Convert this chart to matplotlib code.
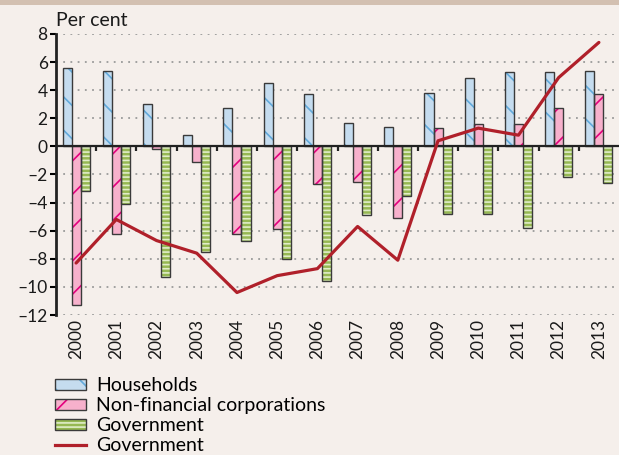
import matplotlib
matplotlib.use("Agg")
import matplotlib.pyplot as plt
from matplotlib.patches import Patch, Rectangle
from matplotlib.lines import Line2D
from matplotlib.legend_handler import HandlerTuple
import numpy as np

years = ["2000", "2001", "2002", "2003", "2004", "2005", "2006",
         "2007", "2008", "2009", "2010", "2011", "2012", "2013"]
households = [5.6, 5.4, 3.0, 0.8, 2.7, 4.5, 3.7, 1.7, 1.4, 3.8, 4.9, 5.3, 5.3, 5.4]
nonfin_corp = [-11.3, -6.2, -0.15, -1.1, -6.2, -5.9, -2.7, -2.5, -5.1, 1.3, 1.6, 1.6, 2.7, 3.7]
government_bars = [-3.2, -4.1, -9.3, -7.5, -6.7, -8.0, -9.6, -4.9, -3.5, -4.8, -4.8, -5.8, -2.2, -2.6]
government_line = [-8.3, -5.2, -6.7, -7.6, -10.4, -9.2, -8.7, -5.7, -8.1, 0.4, 1.3, 0.8, 4.9, 7.4]
yticks = [-12, -10, -8, -6, -4, -2, 0, 2, 4, 6, 8]
series_labels = ["Households", "Non-financial corporations", "Government", "Government"]

plt.rcParams['font.family'] = ['Lato', 'DejaVu Sans']
plt.rcParams['hatch.linewidth'] = 1.2

BG = '#F5EFEB'
EDGE = '#3A3A3A'
fig = plt.figure(figsize=(6.19, 4.55), dpi=100, facecolor=BG)
fig.add_artist(Rectangle((0, 1 - 5/455), 1, 5/455, transform=fig.transFigure,
                         facecolor='#D3C0B1', edgecolor='none'))
ax = fig.add_axes([56/619, 1 - 315/455, 1 - 56/619, (315 - 34)/455])
ax.set_facecolor(BG)

x = np.arange(len(years))
w = 0.225
styles = [
    (households, -w, '#C5DCEF', '#62AADB', '\\'),
    (nonfin_corp, 0.0, '#F7B1CC', '#E4007E', '/'),
    (government_bars, w, '#96B853', '#E0EDC8', '----'),
]
for vals, off, fc, hc, hatch in styles:
    ax.bar(x + off, vals, w, color=fc, edgecolor=hc, linewidth=0, hatch=hatch, zorder=2)
    ax.bar(x + off, vals, w, facecolor='none', edgecolor=EDGE, linewidth=1.0, zorder=3)

ax.plot(x, government_line, color='#B0202A', linewidth=2.3, zorder=5, solid_capstyle='round')

ax.set_xlim(-0.5, len(years) - 0.5)
ax.set_ylim(-12, 8)
ax.set_yticks(yticks)
ax.set_yticklabels([str(t).replace('-', '\u2013') for t in yticks], fontsize=12.5, color='#1a1a1a')
for t in yticks:
    if t != 0:
        ax.axhline(t, color='#9A9A9A', linestyle=(0, (1, 3)), linewidth=1.3, zorder=1)
ax.axhline(0, color='#222222', linewidth=1.6, zorder=4)
ax.vlines(x[:-1] + 0.5, -0.3, 0, color='#222222', linewidth=1.6, zorder=4)

ax.set_xticks(x)
ax.set_xticklabels(years, rotation=90, fontsize=12.5, color='#1a1a1a')
ax.tick_params(axis='x', length=0, pad=3)
ax.tick_params(axis='y', length=4, width=1.5, pad=2, direction='out')
for s in ['top', 'right', 'bottom']:
    ax.spines[s].set_visible(False)
ax.spines['left'].set_linewidth(2)
ax.spines['left'].set_color('#222222')

fig.text(56/619, 1 - 20/455, "Per cent", fontsize=14, va='center', ha='left', color='#1a1a1a')

handles = []
for vals, off, fc, hc, hatch in styles:
    handles.append((Patch(facecolor=fc, edgecolor=hc, hatch=hatch, linewidth=0),
                    Patch(facecolor='none', edgecolor=EDGE, linewidth=1.0)))
handles.append(Line2D([], [], color='#B0202A', linewidth=2.3))
leg = fig.legend(handles, series_labels, loc='upper left',
                 bbox_to_anchor=(55/619, 1 - 377/455), frameon=False,
                 fontsize=14, handlelength=1.6, handleheight=0.5,
                 handletextpad=0.5, labelspacing=0.16, borderpad=0, borderaxespad=0,
                 handler_map={tuple: HandlerTuple(ndivide=1, pad=0)})

fig.savefig("out.png", dpi=100, facecolor=BG)
